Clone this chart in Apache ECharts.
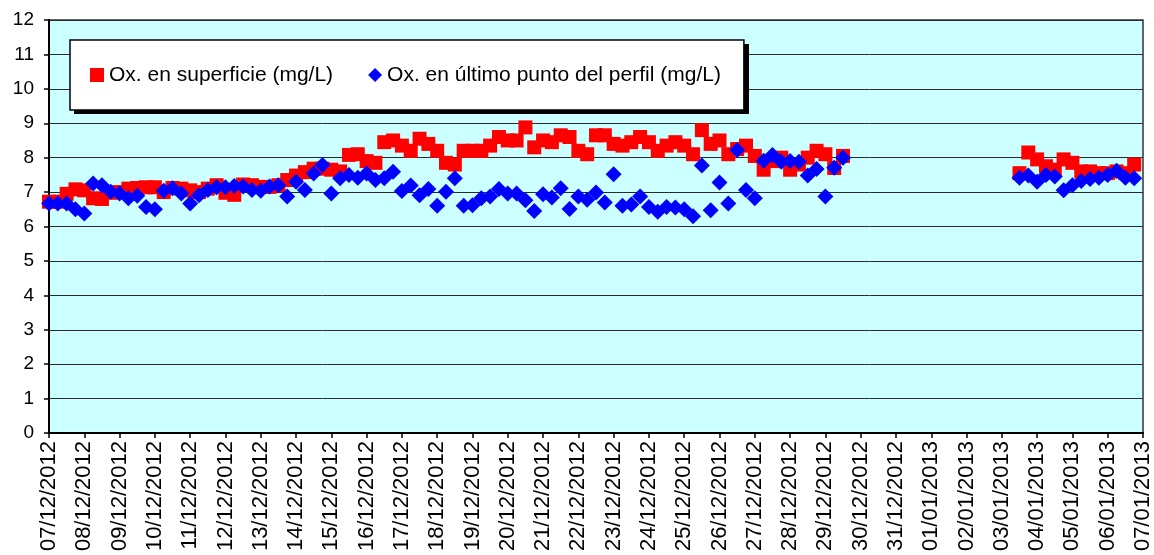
<!DOCTYPE html>
<html>
<head>
<meta charset="utf-8">
<script src="https://cdn.jsdelivr.net/npm/echarts@6/dist/echarts.min.js"></script>
<style>
html,body{margin:0;padding:0;background:#fff;}
#c{width:1154px;height:555px;}
</style>
</head>
<body>
<div id="c"></div>
<script>
// Tick labels (one per day)
const tickDates = [
  '07/12/2012','08/12/2012','09/12/2012','10/12/2012','11/12/2012','12/12/2012',
  '13/12/2012','14/12/2012','15/12/2012','16/12/2012','17/12/2012','18/12/2012',
  '19/12/2012','20/12/2012','21/12/2012','22/12/2012','23/12/2012','24/12/2012',
  '25/12/2012','26/12/2012','27/12/2012','28/12/2012','29/12/2012','30/12/2012',
  '31/12/2012','01/01/2013','02/01/2013','03/01/2013','04/01/2013','05/01/2013',
  '06/01/2013','07/01/2013'
];
// Sampling hours within a day
const hours = ['00:00','06:00','12:00','18:00'];

// Ox. en superficie (mg/L), every 6 h from 07/12/2012 00:00
const surface = [
  6.72,6.72,6.95,7.08, 7.05,6.82,6.80,6.98, 7.00,7.10,7.12,7.14, 7.14,7.00,7.12,7.10,
  7.05,7.00,7.10,7.20, 6.98,6.92,7.22,7.20, 7.15,7.15,7.20,7.35, 7.48,7.58,7.68,7.68,
  7.65,7.60,8.08,8.10, 7.90,7.85,8.45,8.50, 8.35,8.20,8.55,8.40, 8.20,7.85,7.80,8.20,
  8.20,8.20,8.35,8.60, 8.50,8.50,8.88,8.30, 8.50,8.45,8.65,8.60, 8.20,8.10,8.65,8.65,
  8.40,8.35,8.45,8.60, 8.45,8.20,8.35,8.45, 8.35,8.10,8.80,8.40, 8.50,8.10,8.25,8.35,
  8.05,7.65,7.90,8.00, 7.65,7.80,8.00,8.20, 8.10,7.70,8.05,
  null,null,null,null,null,null,null,null,null,null,null,null,null,null,null,null,null,null,null,
  7.55,8.15,7.95,7.75,7.65,7.95,7.85,7.60,7.60,7.55,7.55,7.60,7.55,7.80
];

// Ox. en último punto del perfil (mg/L)
const bottom = [
  6.67,6.67,6.67,6.50, 6.38,7.25,7.20,7.01, 6.96,6.82,6.89,6.57, 6.50,7.04,7.11,6.96,
  6.67,6.91,7.06,7.14, 7.14,7.18,7.16,7.06, 7.04,7.16,7.20,6.87, 7.30,7.06,7.54,7.79,
  6.96,7.40,7.50,7.42, 7.54,7.35,7.40,7.59, 7.03,7.19,6.91,7.09, 6.60,7.01,7.40,6.60,
  6.62,6.82,6.87,7.09, 6.96,6.96,6.76,6.45, 6.94,6.84,7.11,6.51, 6.87,6.78,6.99,6.70,
  7.52,6.60,6.64,6.87, 6.57,6.43,6.57,6.55, 6.50,6.30,7.77,6.47, 7.28,6.67,8.22,7.06,
  6.82,7.91,8.08,7.88, 7.90,7.88,7.48,7.67, 6.87,7.71,8.00,
  null,null,null,null,null,null,null,null,null,null,null,null,null,null,null,null,null,null,null,
  7.42,7.48,7.30,7.50,7.45,7.05,7.20,7.32,7.38,7.42,7.50,7.62,7.42,7.40
];

const categories = [];
for (let d = 0; d < tickDates.length - 1; d++) {
  for (const h of hours) categories.push(tickDates[d] + ' ' + h);
}
categories.push(tickDates[tickDates.length - 1] + ' 00:00');

const FONT = '"Liberation Sans", Arial, sans-serif';
const chart = echarts.init(document.getElementById('c'), null, {renderer: 'canvas'});
chart.setOption({
  animation: false,
  backgroundColor: '#ffffff',
  textStyle: {fontFamily: FONT},
  grid: {
    left: 49, right: 11, top: 20, bottom: 122,
    show: true, backgroundColor: '#CCFFFF', borderColor: '#333333', borderWidth: 1.5
  },
  // drop shadow behind the legend box
  graphic: [{
    type: 'rect', left: 74, top: 44, z: 3, silent: true,
    shape: {width: 675, height: 70},
    style: {fill: '#000000'}
  }],
  legend: {
    left: 70, top: 40, z: 4,
    orient: 'horizontal',
    itemWidth: 14, itemHeight: 14, itemGap: 35,
    padding: [23, 23, 23, 20],
    backgroundColor: '#ffffff',
    borderColor: '#000000', borderWidth: 1.5, borderRadius: 0,
    textStyle: {fontFamily: FONT, fontSize: 21, color: '#000', lineHeight: 24},
    data: [
      {name: 'Ox. en superficie (mg/L)', icon: 'rect'},
      {name: 'Ox. en último punto del perfil (mg/L)', icon: 'diamond'}
    ]
  },
  xAxis: {
    type: 'category',
    data: categories,
    boundaryGap: false,
    axisLine: {lineStyle: {color: '#000', width: 2}},
    axisTick: {interval: 3, length: 5, lineStyle: {color: '#000', width: 1.5}},
    axisLabel: {
      interval: 3, rotate: 90, margin: 8, fontSize: 22, color: '#000', fontFamily: FONT,
      formatter: v => v.split(' ')[0]
    },
    splitLine: {show: false}
  },
  yAxis: {
    type: 'value', min: 0, max: 12, interval: 1,
    axisLine: {show: true, lineStyle: {color: '#000', width: 2}},
    axisTick: {show: true, length: 5, lineStyle: {color: '#000', width: 1.5}},
    axisLabel: {fontSize: 19, color: '#000', margin: 15, fontFamily: FONT},
    splitLine: {show: true, lineStyle: {color: '#2a2a2a', width: 1}}
  },
  series: [
    {
      name: 'Ox. en superficie (mg/L)', type: 'scatter',
      symbol: 'rect', symbolSize: 14,
      itemStyle: {color: '#FF0000', opacity: 1},
      data: surface
    },
    {
      name: 'Ox. en último punto del perfil (mg/L)', type: 'scatter',
      symbol: 'diamond', symbolSize: 16,
      itemStyle: {color: '#0000FF', opacity: 1},
      data: bottom
    }
  ]
});
</script>
</body>
</html>
